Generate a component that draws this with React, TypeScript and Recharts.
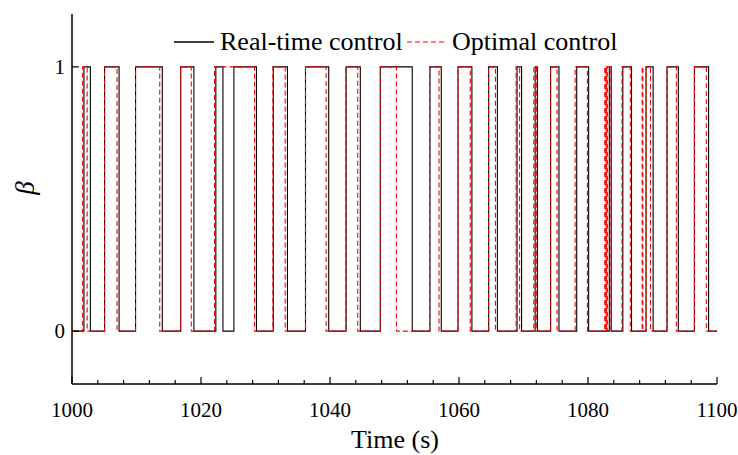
import { LineChart, Line, XAxis, YAxis } from "recharts";

// switching instants (s)
const realRise = [1001.85, 1005.05, 1009.85, 1016.85, 1022.3, 1025.1, 1031.2, 1036.2, 1042.5, 1047.8, 1055.5, 1059.85, 1064.6, 1069.0, 1071.8, 1074.2, 1078.25, 1083.3, 1085.4, 1089.0, 1092.25, 1096.5];
const realFall = [1002.85, 1007.3, 1014.0, 1018.9, 1023.4, 1028.6, 1033.4, 1039.8, 1044.7, 1052.75, 1057.25, 1062.0, 1065.95, 1069.7, 1072.15, 1075.5, 1080.1, 1083.6, 1086.75, 1090.1, 1094.0, 1098.7];

const optRise = [1001.65, 1005.05, 1009.85, 1016.85, 1022.1, 1031.15, 1036.2, 1042.45, 1047.8, 1055.45, 1059.85, 1064.6, 1068.85, 1071.6, 1074.2, 1078.0, 1082.6, 1082.8, 1083.0, 1085.27, 1088.4, 1089.0, 1092.25, 1096.5];
const optFall = [1002.35, 1006.98, 1013.6, 1018.5, 1028.3, 1033.05, 1039.4, 1044.3, 1050.3, 1056.9, 1061.75, 1065.65, 1069.4, 1072.0, 1075.2, 1079.9, 1082.7, 1082.9, 1083.55, 1086.55, 1088.5, 1089.7, 1093.7, 1098.35];

const tStart = 1000;
const tEnd = 1100;
const xTicks = [1000, 1004, 1008, 1012, 1016, 1020, 1024, 1028, 1032, 1036, 1040, 1044, 1048, 1052, 1056, 1060, 1064, 1068, 1072, 1076, 1080, 1084, 1088, 1092, 1096, 1100];
const xLabels = [1000, 1020, 1040, 1060, 1080, 1100];
const yTicks = [0, 1];

const font = "Liberation Serif";

function toSteps(rise: number[], fall: number[]) {
  const pts = [{ t: tStart, v: 0 }];
  rise.forEach((r, i) => {
    pts.push({ t: r, v: 1 });
    pts.push({ t: fall[i], v: 0 });
  });
  pts.push({ t: tEnd, v: 0 });
  return pts;
}

const realData = toSteps(realRise, realFall);
const optData = toSteps(optRise, optFall);

const XTick = (props: any) => {
  const { x, y, payload } = props;
  const major = xLabels.includes(payload.value);
  return (
    <g>
      <line x1={x} x2={x} y1={y} y2={y - (major ? 7 : 4)} stroke="#000" strokeWidth={1.2} />
      {major && (
        <text x={x} y={y + 33} textAnchor="middle" fontSize={21} style={{ fontFamily: font }} fill="#000">
          {payload.value}
        </text>
      )}
    </g>
  );
};

const YTick = (props: any) => {
  const { x, y, payload } = props;
  return (
    <g>
      <line x1={x} x2={x + 7} y1={y} y2={y} stroke="#000" strokeWidth={1.2} />
      <text x={x - 7} y={y + 7} textAnchor="end" fontSize={21} style={{ fontFamily: font }} fill="#000">
        {payload.value}
      </text>
    </g>
  );
};

export default function App() {
  return (
    <div style={{ position: "absolute", left: 0, top: 0, width: 738, height: 455, background: "#fff" }}>
      <LineChart width={738} height={455} margin={{ top: 14, right: 21, bottom: 11, left: 12 }}>
        <XAxis
          type="number"
          dataKey="t"
          domain={[tStart, tEnd]}
          ticks={xTicks}
          interval={0}
          tickSize={0}
          tickMargin={0}
          tickLine={false}
          tick={<XTick />}
          height={60}
          axisLine={{ stroke: "#000", strokeWidth: 1.5 }}
          allowDataOverflow
        />
        <YAxis
          type="number"
          dataKey="v"
          domain={[-0.2, 1.2]}
          ticks={yTicks}
          interval={0}
          tickSize={0}
          tickMargin={0}
          tickLine={false}
          tick={<YTick />}
          width={60}
          axisLine={{ stroke: "#000", strokeWidth: 1.5 }}
          allowDataOverflow
        />
        <Line
          data={realData}
          dataKey="v"
          type="stepAfter"
          stroke="#000"
          strokeWidth={1.1}
          dot={false}
          isAnimationActive={false}
        />
        <Line
          data={optData}
          dataKey="v"
          type="stepAfter"
          stroke="#ff0000"
          strokeWidth={1.1}
          strokeDasharray="5 3"
          dot={false}
          isAnimationActive={false}
        />
      </LineChart>
      <svg width={738} height={455} style={{ position: "absolute", left: 0, top: 0, pointerEvents: "none" }}>
        <line x1={174} x2={214} y1={42} y2={42} stroke="#000" strokeWidth={1.3} />
        <text x={220} y={50} fontSize={26} style={{ fontFamily: font }} fill="#000">Real-time control</text>
        <line x1={407} x2={446} y1={42} y2={42} stroke="#ff0000" strokeWidth={1.2} strokeDasharray="5 3" />
        <text x={452} y={50} fontSize={26} style={{ fontFamily: font }} fill="#000">Optimal control</text>
        <text x={395} y={448} textAnchor="middle" fontSize={26} style={{ fontFamily: font }} fill="#000">Time (s)</text>
        <text
          x={34}
          y={188}
          transform="rotate(-90 34 188)"
          textAnchor="middle"
          fontSize={27}
          fontStyle="italic"
          style={{ fontFamily: font }}
          fill="#000"
        >
          β
        </text>
      </svg>
    </div>
  );
}
